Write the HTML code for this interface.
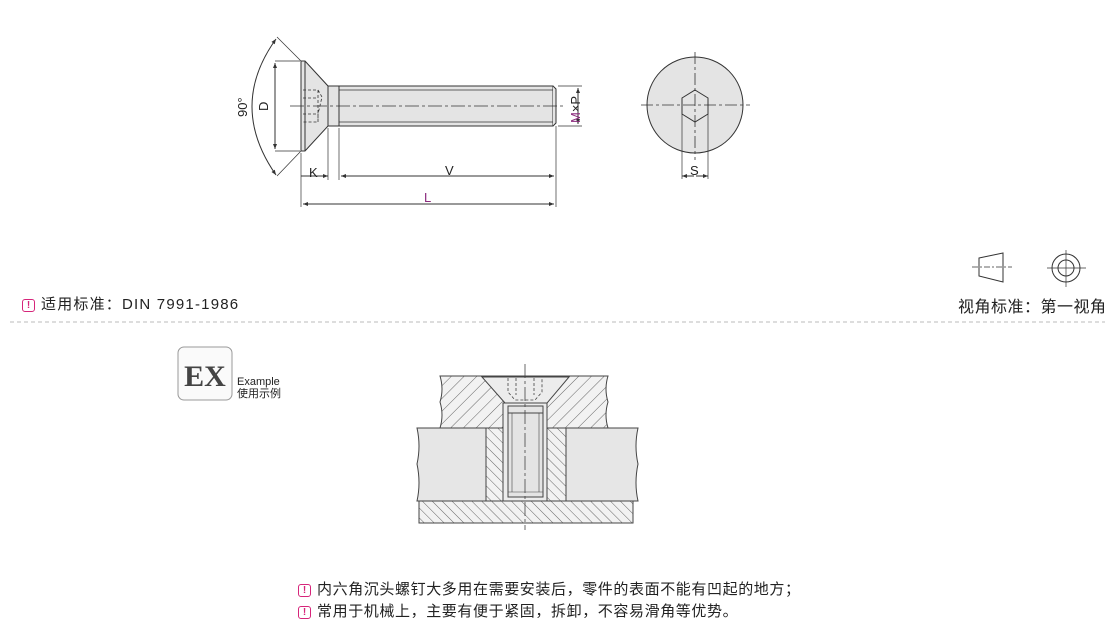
<!DOCTYPE html>
<html><head><meta charset="utf-8"><style>
html,body{margin:0;padding:0;background:#fff;}
body{width:1110px;height:631px;overflow:hidden;position:relative;font-family:"Liberation Sans","Noto Sans CJK SC",sans-serif;}
.t{position:absolute;white-space:nowrap;color:#222;}
.ic{display:inline-block;width:11px;height:11px;border:1.5px solid #d6257a;border-radius:3px;color:#d6257a;font-size:10px;line-height:11px;text-align:center;font-weight:bold;vertical-align:1px;margin-right:6px;letter-spacing:0;}
</style></head><body>
<svg width="1110" height="631" style="position:absolute;left:0;top:0" xmlns="http://www.w3.org/2000/svg">
<defs>
<pattern id="h1" width="9" height="9" patternUnits="userSpaceOnUse" patternTransform="rotate(45)"><rect width="9" height="9" fill="#f2f2f2"/><line x1="0" y1="0" x2="0" y2="9" stroke="#555" stroke-width="0.9"/></pattern>
<pattern id="h2" width="7" height="7" patternUnits="userSpaceOnUse" patternTransform="rotate(-45)"><rect width="7" height="7" fill="#f2f2f2"/><line x1="0" y1="0" x2="0" y2="7" stroke="#555" stroke-width="0.9"/></pattern>
<marker id="a" viewBox="0 0 10 10" refX="10" refY="5" markerWidth="7" markerHeight="5" orient="auto-start-reverse"><path d="M0,1 L10,5 L0,9 z" fill="#333"/></marker>
</defs>
<g stroke="#333" stroke-width="1" fill="none">
<path d="M301,61 L305,61 L328,86 L328,126 L305,151 L301,151 Z" fill="#e4e4e4"/>
<line x1="305" y1="61" x2="305" y2="151"/>
<rect x="328" y="86" width="225" height="40" fill="#e4e4e4"/>
<path d="M553,86 L556,89 L556,123 L553,126" fill="#e4e4e4"/>
<line x1="339" y1="86" x2="339" y2="126"/>
<line x1="339" y1="90" x2="553" y2="90" stroke-width="0.7"/>
<line x1="339" y1="122" x2="553" y2="122" stroke-width="0.7"/>
<path d="M303,90 H318 L322,97 L318,114 V122 H303 M303,98 H318 M303,114 H318 M318,90 V122" stroke-dasharray="3,2" stroke-width="0.8"/>
<line x1="290" y1="106" x2="565" y2="106" stroke-dasharray="14,3,3,3" stroke-width="0.8"/>
<line x1="275" y1="61" x2="300" y2="61" stroke-width="0.7"/>
<line x1="275" y1="151" x2="300" y2="151" stroke-width="0.7"/>
<line x1="275" y1="63" x2="275" y2="149" marker-start="url(#a)" marker-end="url(#a)"/>
<line x1="301" y1="61" x2="277" y2="37" stroke-width="0.7"/>
<line x1="301" y1="151" x2="277" y2="176" stroke-width="0.7"/>
<path d="M276,39 Q228,106 276,175" marker-start="url(#a)" marker-end="url(#a)"/>
<line x1="301" y1="153" x2="301" y2="207" stroke-width="0.7"/>
<line x1="328" y1="128" x2="328" y2="180" stroke-width="0.7"/>
<line x1="339" y1="128" x2="339" y2="180" stroke-width="0.7"/>
<line x1="556" y1="126" x2="556" y2="207" stroke-width="0.7"/>
<line x1="301" y1="176" x2="328" y2="176" marker-end="url(#a)"/>
<line x1="341" y1="176" x2="554" y2="176" marker-start="url(#a)" marker-end="url(#a)"/>
<line x1="303" y1="204" x2="554" y2="204" marker-start="url(#a)" marker-end="url(#a)"/>
<line x1="558" y1="86" x2="582" y2="86" stroke-width="0.7"/>
<line x1="558" y1="126" x2="582" y2="126" stroke-width="0.7"/>
<line x1="578" y1="88" x2="578" y2="124" marker-start="url(#a)" marker-end="url(#a)"/>
<circle cx="695" cy="105" r="48" fill="#e4e4e4"/>
<polygon points="695,90 708,98 708,114 695,122 682,114 682,98"/>
<line x1="641" y1="105" x2="750" y2="105" stroke-dasharray="12,3,3,3" stroke-width="0.8"/>
<line x1="695" y1="52" x2="695" y2="160" stroke-dasharray="12,3,3,3" stroke-width="0.8"/>
<line x1="682" y1="114" x2="682" y2="179" stroke-width="0.7"/>
<line x1="708" y1="114" x2="708" y2="179" stroke-width="0.7"/>
<line x1="682" y1="176" x2="694" y2="176" marker-start="url(#a)"/>
<line x1="696" y1="176" x2="708" y2="176" marker-end="url(#a)"/>
<path d="M979,258 L1003,253 L1003,282 L979,276 Z"/>
<line x1="972" y1="267" x2="1012" y2="267" stroke-dasharray="6,2,2,2" stroke-width="0.7"/>
<circle cx="1066" cy="268" r="14"/><circle cx="1066" cy="268" r="8"/>
<line x1="1047" y1="268" x2="1086" y2="268" stroke-width="0.7"/>
<line x1="1066" y1="250" x2="1066" y2="287" stroke-width="0.7"/>
</g>
<line x1="10" y1="322" x2="1105" y2="322" stroke="#bbb" stroke-dasharray="4,3"/>
<g stroke="#444" stroke-width="1">
<path d="M440,376 H608 Q604,389 608,402 Q604,415 608,428 H440 Q444,415 440,402 Q444,389 440,376 Z" fill="url(#h1)"/>
<path d="M482,377 H569 L547,403 V428 H505 V403 Z" fill="#ececec"/>
<path d="M417,428 H638 Q634,446 638,464 Q634,483 638,501 H417 Q421,483 417,464 Q421,446 417,428 Z" fill="#e6e6e6"/>
<rect x="486" y="428" width="80" height="73" fill="url(#h2)"/>
<path d="M419,501 H633 V523 H419 Z" fill="url(#h2)"/>
<rect x="503" y="403" width="44" height="98" fill="#ececec"/>
<rect x="508" y="406" width="35" height="91" fill="#e4e4e4"/>
<line x1="508" y1="413" x2="543" y2="413"/>
<line x1="512" y1="413" x2="512" y2="492" stroke-width="0.6"/>
<line x1="539" y1="413" x2="539" y2="492" stroke-width="0.6"/>
<line x1="508" y1="492" x2="543" y2="492" stroke-width="0.6"/>
<path d="M508,378 V392 L515,400 H535 L542,392 V378 M516,378 V395 M534,378 V395" fill="none" stroke-dasharray="3,2" stroke-width="0.8"/>
<line x1="525" y1="364" x2="525" y2="530" stroke-dasharray="14,3,3,3" stroke-width="0.8"/>
</g>
<rect x="178" y="347" width="54" height="53" rx="6" fill="#fafafa" stroke="#999"/>
<text x="205" y="386" text-anchor="middle" font-family="Liberation Serif,serif" font-size="30" font-weight="bold" fill="#444">EX</text>
<g font-family="Liberation Sans,sans-serif" fill="#222">
<text x="268" y="111" font-size="13" transform="rotate(-90 268 111)">D</text>
<text x="247" y="117" font-size="13" transform="rotate(-90 247 117)">90°</text>
<text x="309" y="177" font-size="13">K</text>
<text x="445" y="175" font-size="13">V</text>
<text x="424" y="202" font-size="13" fill="#8b2a7d">L</text>
<text x="690" y="175" font-size="13">S</text>
<text x="580" y="123" font-size="13" transform="rotate(-90 580 123)"><tspan fill="#8b2a7d">M</tspan>×P</text>
</g>
</svg>
<div class="t" style="left:237px;top:376px;font-size:11px;line-height:12px;">Example<br>使用示例</div>
<div class="t" style="left:22px;top:293px;font-size:15px;letter-spacing:1.2px;"><span class="ic">!</span>适用标准：DIN 7991-1986</div>
<div class="t" style="left:958px;top:293px;font-size:16px;letter-spacing:0.5px;">视角标准：第一视角</div>
<div class="t" style="left:298px;top:579px;font-size:15px;line-height:22px;letter-spacing:0.6px;"><span class="ic">!</span>内六角沉头螺钉大多用在需要安装后，零件的表面不能有凹起的地方；<br><span class="ic">!</span>常用于机械上，主要有便于紧固，拆卸，不容易滑角等优势。</div>
</body></html>
